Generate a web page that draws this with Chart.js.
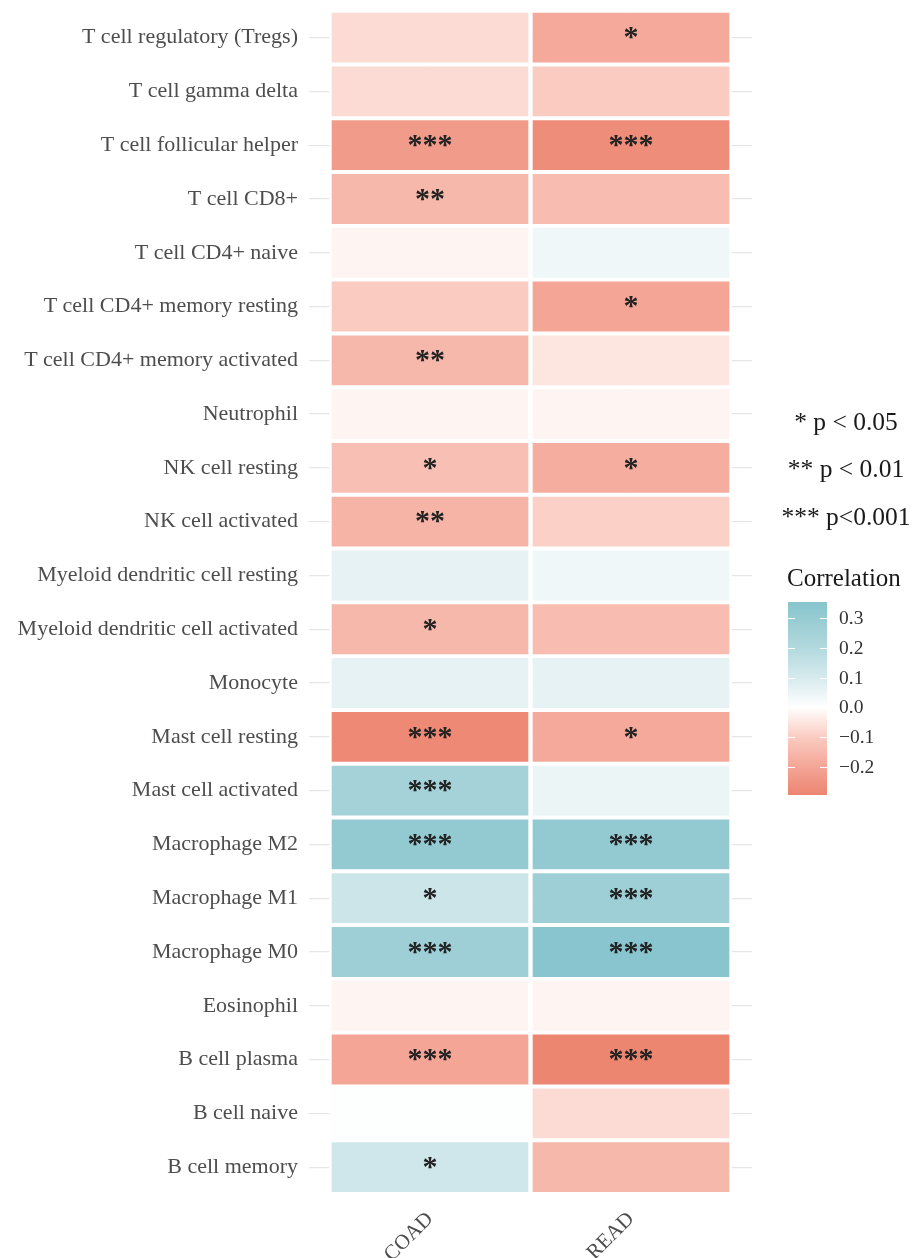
<!DOCTYPE html>
<html>
<head>
<meta charset="utf-8">
<script src="https://cdn.jsdelivr.net/npm/chart.js@4.4.0/dist/chart.umd.min.js"></script>
<style>
    html, body { margin: 0; padding: 0; background: #ffffff; }
    #wrap { width: 913px; height: 1258px; position: relative; }
</style>
</head>
<body>
<div id="wrap"><canvas id="heatmap"></canvas></div>
<script>
// Immune cell vs. correlation heatmap (COAD / READ)

const cellTypes = [
    'T cell regulatory (Tregs)', 'T cell gamma delta', 'T cell follicular helper',
    'T cell CD8+', 'T cell CD4+ naive', 'T cell CD4+ memory resting',
    'T cell CD4+ memory activated', 'Neutrophil', 'NK cell resting',
    'NK cell activated', 'Myeloid dendritic cell resting', 'Myeloid dendritic cell activated',
    'Monocyte', 'Mast cell resting', 'Mast cell activated', 'Macrophage M2',
    'Macrophage M1', 'Macrophage M0', 'Eosinophil', 'B cell plasma',
    'B cell naive', 'B cell memory'
];
const columns = ['COAD', 'READ'];

const coadCorr = [-0.07, -0.07, -0.23, -0.15, -0.02, -0.10, -0.15, -0.02, -0.13, -0.16, 0.06,
    -0.15, 0.06, -0.28, 0.25, 0.31, 0.13, 0.27, -0.02, -0.20, 0.005, 0.12];
const readCorr = [-0.19, -0.10, -0.27, -0.14, 0.04, -0.20, -0.05, -0.02, -0.18, -0.09, 0.04,
    -0.14, 0.06, -0.19, 0.05, 0.31, 0.27, 0.35, -0.02, -0.29, -0.07, -0.15];

const coadSig = ['', '', '***', '**', '', '', '**', '', '*', '**', '',
    '*', '', '***', '***', '***', '*', '***', '', '***', '', '*'];
const readSig = ['*', '', '***', '', '', '*', '', '', '*', '', '',
    '', '', '*', '', '***', '***', '***', '', '***', '', ''];

// colour scale (coral - white - teal)
const corrLimits = [-0.293, 0.353];
const scaleStops = [-0.293, -0.2, -0.1, 0.0, 0.1, 0.2, 0.3, 0.353];
const scaleColors = [
    [236, 133, 112], [244, 165, 150], [250, 203, 193], [255, 255, 255],
    [214, 234, 237], [178, 217, 222], [150, 203, 210], [136, 197, 206]
];
const legendTicks = [0.3, 0.2, 0.1, 0.0, -0.1, -0.2];
const pLegend = ['* p < 0.05', '** p < 0.01', '*** p<0.001'];
const legendTitle = 'Correlation';

const SERIF = "'Liberation Serif', 'Times New Roman', serif";

function corrColor(v) {
    const c = Math.max(corrLimits[0], Math.min(corrLimits[1], v));
    for (let i = 0; i < scaleStops.length - 1; i++) {
        if (c <= scaleStops[i + 1]) {
            const t = (c - scaleStops[i]) / (scaleStops[i + 1] - scaleStops[i]);
            const a = scaleColors[i], b = scaleColors[i + 1];
            const rgb = a.map((x, k) => Math.round(x + (b[k] - x) * t));
            return `rgb(${rgb[0]}, ${rgb[1]}, ${rgb[2]})`;
        }
    }
    const last = scaleColors[scaleColors.length - 1];
    return `rgb(${last[0]}, ${last[1]}, ${last[2]})`;
}

// stars on top of the tiles
const starsPlugin = {
    id: 'stars',
    afterDatasetsDraw(chart) {
        const ctx = chart.ctx;
        ctx.save();
        ctx.font = `bold 30px ${SERIF}`;
        ctx.fillStyle = '#222222';
        ctx.textAlign = 'center';
        ctx.textBaseline = 'middle';
        chart.data.datasets.forEach((ds, di) => {
            const meta = chart.getDatasetMeta(di);
            meta.data.forEach((bar, i) => {
                const label = ds.sig[i];
                if (!label) return;
                ctx.fillText(label, (bar.x + bar.base) / 2, bar.y + 1);
            });
        });
        ctx.restore();
    }
};

// p-value key + colourbar on the right
const legendPlugin = {
    id: 'corrLegend',
    afterDraw(chart) {
        const ctx = chart.ctx;
        ctx.save();

        ctx.fillStyle = '#1a1a1a';
        ctx.font = `25.5px ${SERIF}`;
        ctx.textAlign = 'center';
        ctx.textBaseline = 'middle';
        pLegend.forEach((txt, i) => ctx.fillText(txt, 846, 423 + i * 47.5));

        ctx.font = `25px ${SERIF}`;
        ctx.textAlign = 'left';
        ctx.fillText(legendTitle, 787, 579);

        const barX = 788, barW = 39, barTop = 602, barBottom = 795;
        const yOf = v => barBottom - (v - corrLimits[0]) / (corrLimits[1] - corrLimits[0]) * (barBottom - barTop);

        const grad = ctx.createLinearGradient(0, barBottom, 0, barTop);
        scaleStops.forEach((s, i) => {
            const t = (s - corrLimits[0]) / (corrLimits[1] - corrLimits[0]);
            const c = scaleColors[i];
            grad.addColorStop(Math.max(0, Math.min(1, t)), `rgb(${c[0]}, ${c[1]}, ${c[2]})`);
        });
        ctx.fillStyle = grad;
        ctx.fillRect(barX, barTop, barW, barBottom - barTop);

        ctx.strokeStyle = '#ffffff';
        ctx.lineWidth = 1;
        ctx.font = `19.5px ${SERIF}`;
        ctx.fillStyle = '#333333';
        legendTicks.forEach(v => {
            const y = Math.round(yOf(v)) + 0.5;
            ctx.beginPath();
            ctx.moveTo(barX, y); ctx.lineTo(barX + 7, y);
            ctx.moveTo(barX + barW - 7, y); ctx.lineTo(barX + barW, y);
            ctx.stroke();
            ctx.fillText(v.toFixed(1).replace('-', '\u2212'), 839, y);
        });

        ctx.restore();
    }
};

const unitWidth = cellTypes.map(() => 1);

new Chart(document.getElementById('heatmap'), {
    type: 'bar',
    data: {
        labels: cellTypes,
        datasets: [
            { label: columns[0], data: unitWidth, corr: coadCorr, sig: coadSig,
              backgroundColor: coadCorr.map(corrColor) },
            { label: columns[1], data: unitWidth, corr: readCorr, sig: readSig,
              backgroundColor: readCorr.map(corrColor) }
        ]
    },
    options: {
        indexAxis: 'y',
        responsive: true,
        maintainAspectRatio: false,
        animation: false,
        layout: { padding: { top: 10.7, right: 161, bottom: 0, left: 0 } },
        datasets: {
            bar: {
                categoryPercentage: 1,
                barPercentage: 1,
                borderColor: '#ffffff',
                borderWidth: { top: 2.3, bottom: 2.3, left: 2.5, right: 2.5 },
                borderSkipped: false
            }
        },
        plugins: {
            legend: { display: false },
            tooltip: { enabled: false }
        },
        scales: {
            x: {
                type: 'linear',
                stacked: true,
                min: -0.102,
                max: 2.102,
                afterBuildTicks: scale => {
                    scale.ticks = columns.map((c, i) => ({ value: i + 0.5 }));
                },
                afterFit: scale => {
                    scale.height = 64;
                    scale.paddingLeft = 0;
                    scale.paddingRight = 0;
                },
                grid: { color: '#ebebeb', lineWidth: 1, drawTicks: false },
                border: { display: false },
                ticks: {
                    autoSkip: false,
                    minRotation: 45,
                    maxRotation: 45,
                    padding: 13,
                    color: '#4d4d4d',
                    font: { family: SERIF, size: 21 },
                    callback: v => columns[Math.floor(v)]
                }
            },
            y: {
                stacked: true,
                afterFit: scale => {
                    scale.width = 309;
                    scale.paddingTop = 0;
                    scale.paddingBottom = 0;
                },
                grid: { color: '#e6e6e6', lineWidth: 1.2, drawTicks: false, offset: false },
                border: { display: false },
                ticks: {
                    autoSkip: false,
                    padding: 11,
                    color: '#4d4d4d',
                    font: { family: SERIF, size: 22 }
                }
            }
        }
    },
    plugins: [starsPlugin, legendPlugin]
});
</script>
</body>
</html>
